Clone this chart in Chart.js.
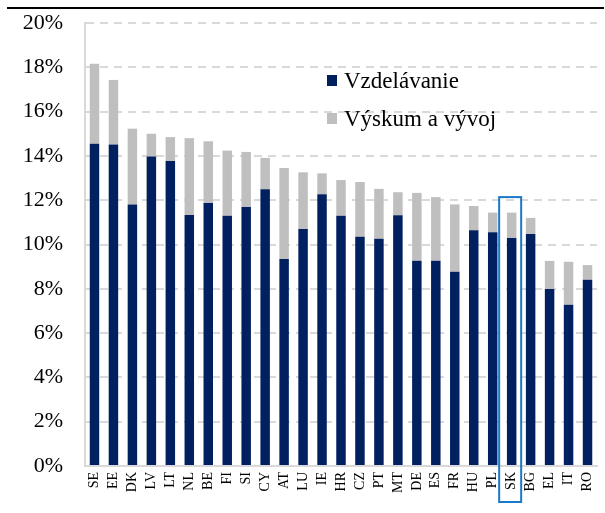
<!DOCTYPE html>
<html>
<head>
<meta charset="utf-8">
<script src="https://cdn.jsdelivr.net/npm/chart.js@4.4.1/dist/chart.umd.min.js"></script>
<style>
  html, body { margin: 0; padding: 0; background: #ffffff; }
  #wrap { width: 605px; height: 513px; position: relative; }
</style>
</head>
<body>
<div id="wrap"><canvas id="c" width="605" height="513"></canvas></div>
<script>
const categories = ['SE','EE','DK','LV','LT','NL','BE','FI','SI','CY','AT','LU','IE','HR','CZ','PT','MT','DE','ES','FR','HU','PL','SK','BG','EL','IT','RO'];
const education = [14.55,14.52,11.81,13.97,13.77,11.33,11.87,11.30,11.69,12.49,9.35,10.70,12.27,11.30,10.35,10.26,11.32,9.27,9.27,8.77,10.64,10.55,10.29,10.47,7.99,7.28,8.41];
const research  = [3.61,2.91,3.42,1.03,1.08,3.47,2.79,2.94,2.49,1.42,4.10,2.56,0.94,1.61,2.47,2.25,1.04,3.06,2.87,3.04,1.10,0.89,1.15,0.73,1.27,1.94,0.66];
const seriesNames = ['Vzdelávanie','Výskum a vývoj'];
const yTicks = [0,2,4,6,8,10,12,14,16,18,20];
const highlighted = 'SK';

const NAVY = '#002060';
const GREY = '#BFBFBF';
const FONT = "'Liberation Serif', 'Times New Roman', serif";

const extras = {
  id: 'extras',
  afterDraw(chart) {
    const ctx = chart.ctx;
    const xs = chart.scales.x, ys = chart.scales.y;
    ctx.save();
    // top rule
    ctx.strokeStyle = '#000000';
    ctx.lineWidth = 2;
    ctx.beginPath();
    ctx.moveTo(7, 8); ctx.lineTo(604, 8);
    ctx.stroke();
    // highlight box around SK
    const i = categories.indexOf(highlighted);
    const cx = xs.getPixelForValue(i);
    const top = ys.getPixelForValue(education[i] + research[i]) - 15.5;
    ctx.strokeStyle = '#1a78c8';
    ctx.lineWidth = 2;
    ctx.strokeRect(cx - 12.5, top, 22, 502 - top);
    // legend
    ctx.font = "23px " + FONT;
    ctx.textBaseline = 'middle';
    ctx.textAlign = 'left';
    chart.data.datasets.forEach((ds, k) => {
      const y = 81 + k * 38;
      ctx.fillStyle = ds.backgroundColor;
      ctx.fillRect(327, y - 6, 10, 11);
      ctx.fillStyle = '#000000';
      ctx.fillText(ds.label, 344, y + 1);
    });
    ctx.restore();
  }
};

new Chart(document.getElementById('c'), {
  type: 'bar',
  data: {
    labels: categories,
    datasets: [
      { label: seriesNames[0], data: education, backgroundColor: NAVY, barPercentage: 0.5, categoryPercentage: 1.0, borderWidth: 0 },
      { label: seriesNames[1], data: research, backgroundColor: GREY, barPercentage: 0.5, categoryPercentage: 1.0, borderWidth: 0 }
    ]
  },
  options: {
    responsive: false,
    animation: false,
    devicePixelRatio: 1,
    layout: { padding: { top: 23, right: 8, left: 0, bottom: 0 } },
    plugins: { legend: { display: false }, tooltip: { enabled: false } },
    scales: {
      x: {
        stacked: true,
        grid: { display: true, drawOnChartArea: false, drawTicks: false },
        border: { display: true, color: '#d9d9d9', width: 2 },
        ticks: { color: '#000000', font: { family: FONT, size: 14 }, maxRotation: 90, minRotation: 90, padding: 6, autoSkip: false },
        afterFit(s) { s.height = 47; s.paddingLeft = 0; s.paddingRight = 0; }
      },
      y: {
        stacked: true,
        min: 0, max: 20,
        afterBuildTicks(s) { s.ticks = yTicks.map(v => ({ value: v })); },
        grid: { color: '#d9d9d9', lineWidth: 2, drawTicks: false },
        border: { display: true, color: '#d9d9d9', width: 2, dash: [8, 6] },
        ticks: { color: '#000000', font: { family: FONT, size: 22 }, padding: 22, callback: v => v + '%' },
        afterFit(s) { s.width = 85; s.paddingTop = 0; s.paddingBottom = 0; }
      }
    }
  },
  plugins: [extras]
});
</script>
</body>
</html>
